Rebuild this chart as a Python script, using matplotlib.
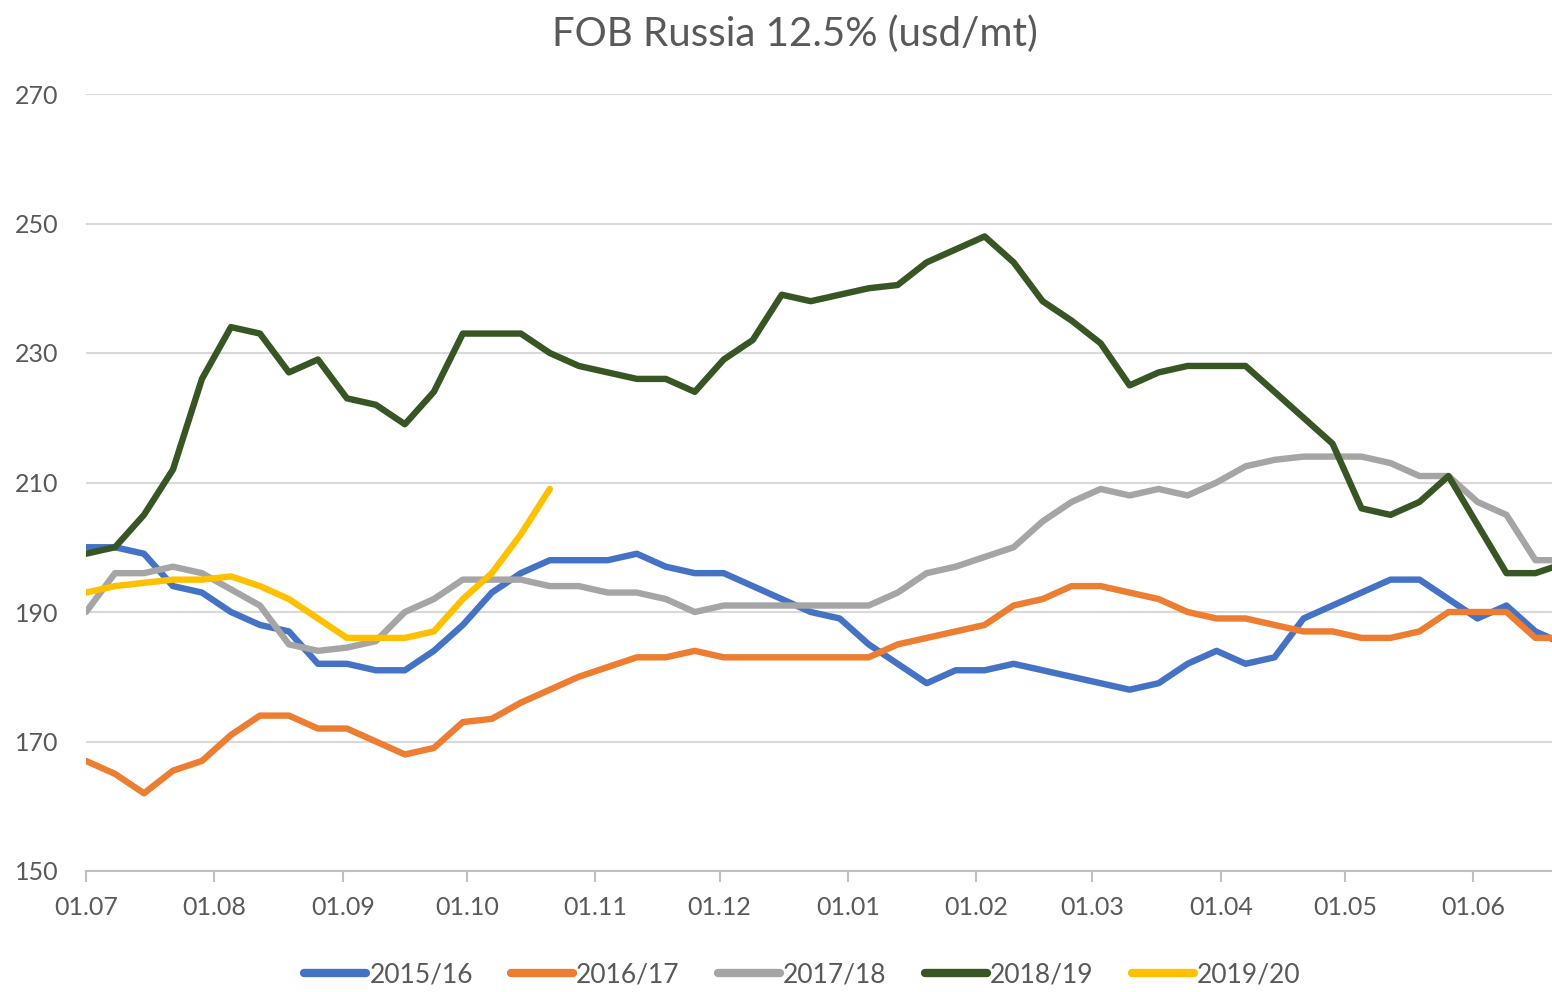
import matplotlib
matplotlib.use("Agg")
import matplotlib.pyplot as plt
import numpy as np

plt.rcParams['font.family'] = ['Lato', 'DejaVu Sans']

# ---- data (weekly observations, season starting 01.07) ----
season_labels = ["2015/16", "2016/17", "2017/18", "2018/19", "2019/20"]
colors = ["#4472C4", "#ED7D31", "#A5A5A5", "#375623", "#FFC000"]

s2015 = [200, 200, 199, 194, 193, 190, 188, 187, 182, 182,
         181, 181, 184, 188, 193, 196, 198, 198, 198, 199,
         197, 196, 196, 194, 192, 190, 189, 185, 182, 179,
         181, 181, 182, 181, 180, 179, 178, 179, 182, 184,
         182, 183, 189, 191, 193, 195, 195, 192, 189, 191,
         187, 185]
s2016 = [167, 165, 162, 165.5, 167, 171, 174, 174, 172, 172,
         170, 168, 169, 173, 173.5, 176, 178, 180, 181.5, 183,
         183, 184, 183, 183, 183, 183, 183, 183, 185, 186,
         187, 188, 191, 192, 194, 194, 193, 192, 190, 189,
         189, 188, 187, 187, 186, 186, 187, 190, 190, 190,
         186, 186]
s2017 = [190, 196, 196, 197, 196, 193.5, 191, 185, 184, 184.5,
         185.5, 190, 192, 195, 195, 195, 194, 194, 193, 193,
         192, 190, 191, 191, 191, 191, 191, 191, 193, 196,
         197, 198.5, 200, 204, 207, 209, 208, 209, 208, 210,
         212.5, 213.5, 214, 214, 214, 213, 211, 211, 207, 205,
         198, 198]
s2018 = [199, 200, 205, 212, 226, 234, 233, 227, 229, 223,
         222, 219, 224, 233, 233, 233, 230, 228, 227, 226,
         226, 224, 229, 232, 239, 238, 239, 240, 240.5, 244,
         246, 248, 244, 238, 235, 231.5, 225, 227, 228, 228,
         228, 224, 220, 216, 206, 205, 207, 211, 203.5, 196,
         196, 197.5]
s2019 = [193, 194, 194.5, 195, 195, 195.5, 194, 192, 189, 186,
         186, 186, 187, 192, 196, 202, 209]
series = [s2015, s2016, s2017, s2018, s2019]

# month tick positions (days since 01.07) and labels
month_days = [0, 31, 62, 92, 123, 153, 184, 215, 243, 274, 304, 335]
month_labels = ["01.07", "01.08", "01.09", "01.10", "01.11", "01.12",
                "01.01", "01.02", "01.03", "01.04", "01.05", "01.06"]
y_ticks = [150, 170, 190, 210, 230, 250, 270]

# ---- figure ----
fig = plt.figure(figsize=(15.52, 9.92), dpi=100)
ax = fig.add_axes([86/1552, 1-871/992, 1-86/1552, (871-94)/992])

text_color = "#595959"
for vals, lab, col in zip(series, season_labels, colors):
    x = np.arange(len(vals)) * 7
    ax.plot(x, vals, color=col, lw=4.6, label=lab,
            solid_joinstyle='round', solid_capstyle='round')

ax.set_xlim(0, 354)
ax.set_ylim(150, 270)
ax.set_yticks(y_ticks)
ax.set_xticks(month_days)
ax.set_xticklabels(month_labels)
ax.grid(axis='y', color="#D9D9D9", lw=1.5)
ax.set_axisbelow(True)
for side in ["left", "right", "top"]:
    ax.spines[side].set_visible(False)
ax.spines["bottom"].set_color("#BFBFBF")
ax.spines["bottom"].set_linewidth(1.5)
ax.tick_params(axis='y', length=0, pad=20, labelsize=18, labelcolor=text_color)
ax.tick_params(axis='x', length=8, width=1.5, color="#BFBFBF", pad=10,
               labelsize=18, labelcolor=text_color)

fig.text(0.512, 0.966, "FOB Russia 12.5% (usd/mt)", ha='center', va='center',
         fontsize=29, color=text_color)

leg = fig.legend(loc='center', bbox_to_anchor=(0.517, 0.017), ncol=5,
                 frameon=False, fontsize=19, handlelength=2.35,
                 handletextpad=0.12, columnspacing=1.45)
for t in leg.get_texts():
    t.set_color(text_color)
for h in leg.get_lines():
    h.set_linewidth(6)
    h.set_solid_capstyle('round')

fig.savefig("out.png", dpi=100)
